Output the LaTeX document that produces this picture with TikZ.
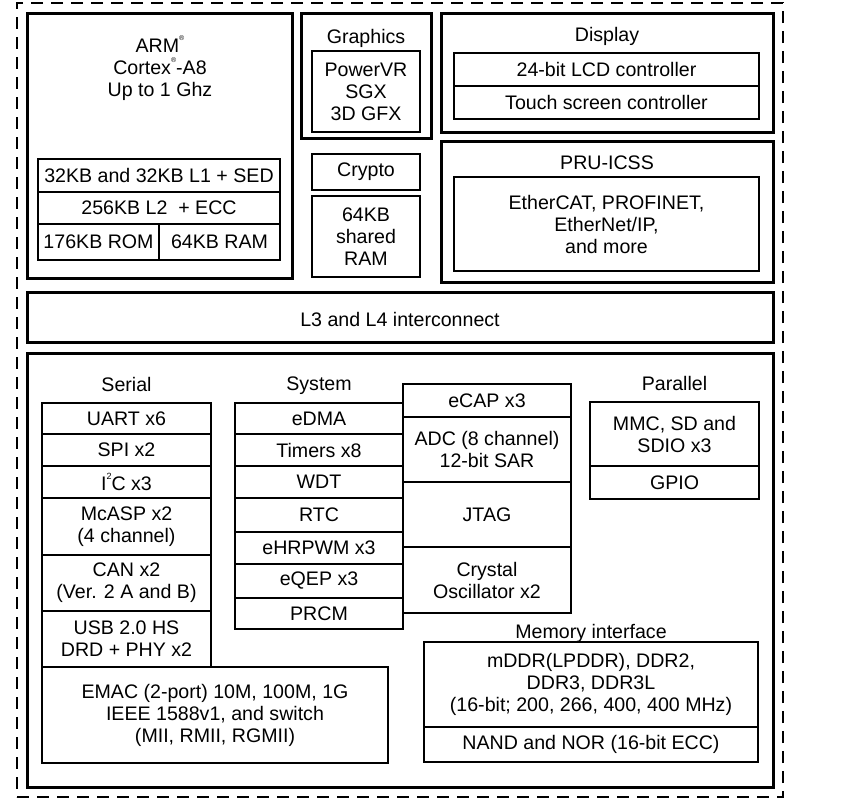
\documentclass[tikz,border=0pt]{standalone}
\usepackage{fontspec}
\setmainfont{Liberation Sans}
\newcommand{\chipfont}{\fontsize{19.6}{22}\selectfont}
\newcommand{\regmark}{\raisebox{1.1ex}{\fontsize{7}{7}\selectfont\textregistered}}
\newcommand{\smallsup}[1]{\raisebox{1.1ex}{\fontsize{9}{9}\selectfont #1}}
\tikzstyle{cell}=[draw, line width=2pt, inner sep=0, outer sep=0, align=center, font=\chipfont]
\tikzstyle{block}=[cell, line width=3pt]
\tikzstyle{caption}=[inner sep=0, outer sep=0, align=center, font=\chipfont, text depth=0pt]
\tikzstyle{chip}=[draw, line width=2pt, dash pattern=on 12pt off 8pt, inner sep=0, outer sep=0]
\tikzset{wh/.style 2 args={minimum width=#1pt, minimum height=#2pt}}

\begin{document}
\begin{tikzpicture}[x=1pt, y=-1pt]
    \useasboundingbox (0,0) rectangle (846,809);
    \node[chip, wh={766}{794}] (soc) at (400,400) {};

    % MPU
    \node[block, wh={265}{265}] (mpu) at (159.5,145.5) {};
    \node[caption] (mpuname) at (160,66) {ARM\regmark\\Cortex\regmark-A8\\Up to 1 Ghz};
    \node[cell, wh={242}{33}] (lone) at (159,175.5) {32KB and 32KB L1 + SED};
    \node[cell, wh={242}{32}] (ltwo) at (159,208) {256KB L2\ \ + ECC};
    \node[cell, wh={121}{36}] (rom) at (98.5,242) {176KB ROM};
    \node[cell, wh={121}{36}] (ram) at (219.5,242) {64KB RAM};

    % graphics, crypto, shared memory
    \node[block, wh={130}{125}] (gfx) at (366,75.5) {};
    \node[caption] (gfxname) at (366,36) {Graphics};
    \node[cell, wh={108}{81}] (sgx) at (366,91.5) {PowerVR\\SGX\\3D GFX};
    \node[cell, wh={108}{36}] (crypto) at (366,172) {Crypto};
    \node[cell, wh={108}{81}] (shram) at (366,236.5) {64KB\\shared\\RAM};

    % display
    \node[block, wh={332}{119}] (disp) at (607,72.5) {};
    \node[caption] (dispname) at (607,34) {Display};
    \node[cell, wh={305}{33}] (lcd) at (606.5,69.5) {24-bit LCD controller};
    \node[cell, wh={305}{33}] (touch) at (606.5,102.5) {Touch screen controller};

    % PRU
    \node[block, wh={332}{141}] (pru) at (607,211.5) {};
    \node[caption] (pruname) at (607,163) {PRU-ICSS};
    \node[cell, wh={305}{94}] (fieldbus) at (606.5,224) {EtherCAT, PROFINET,\\EtherNet/IP,\\and more};

    \node[block, wh={746}{50}] (bus) at (400,317) {};
    \node[caption] (busname) at (400,319.5) {L3 and L4 interconnect};

    % peripherals
    \node[block, wh={746}{434}] (periph) at (400,570) {};

    \node[caption] (serial) at (126.5,384) {Serial};
    \node[cell, wh={169}{31}] (uart) at (126.5,418.5) {UART x6};
    \node[cell, wh={169}{32}] (spi) at (126.5,450) {SPI x2};
    \node[cell, wh={169}{32}] (iic) at (126.5,482) {I\smallsup{2}C x3};
    \node[cell, wh={169}{57}] (mcasp) at (126.5,526.5) {McASP x2\\(4 channel)};
    \node[cell, wh={169}{56}] (can) at (126.5,583) {CAN x2\\(Ver. 2 A and B)};
    \node[cell, wh={169}{56}] (usb) at (126.5,639) {USB 2.0 HS\\DRD + PHY x2};
    \node[cell, wh={346}{96}] (emac) at (215,715) {EMAC (2-port) 10M, 100M, 1G\\IEEE 1588v1, and switch\\(MII, RMII, RGMII)};

    \node[caption] (system) at (319,384) {System};
    \node[cell, wh={168}{31}] (edma) at (319,418.5) {eDMA};
    \node[cell, wh={168}{32}] (timers) at (319,450) {Timers x8};
    \node[cell, wh={168}{32}] (wdt) at (319,482) {WDT};
    \node[cell, wh={168}{34}] (rtc) at (319,515) {RTC};
    \node[cell, wh={168}{32}] (ehrpwm) at (319,548) {eHRPWM x3};
    \node[cell, wh={168}{34}] (eqep) at (319,581) {eQEP x3};
    \node[cell, wh={168}{31}] (prcm) at (319,613.5) {PRCM};

    \node[cell, wh={168}{33}] (ecap) at (487,400.5) {eCAP x3};
    \node[cell, wh={168}{65}] (adc) at (487,449.5) {ADC (8 channel)\\12-bit SAR};
    \node[cell, wh={168}{65}] (jtag) at (487,514.5) {JTAG};
    \node[cell, wh={168}{66}] (xtal) at (487,580) {Crystal\\Oscillator x2};

    \node[caption] (parallel) at (674.5,383) {Parallel};
    \node[cell, wh={169}{64}] (mmc) at (674.5,434) {MMC, SD and\\SDIO x3};
    \node[cell, wh={169}{33}] (gpio) at (674.5,482.5) {GPIO};

    \node[caption] (memif) at (591,631) {Memory interface};
    \node[cell, wh={334}{85}] (ddr) at (591,684.5) {mDDR(LPDDR), DDR2,\\DDR3, DDR3L\\(16-bit; 200, 266, 400, 400 MHz)};
    \node[cell, wh={334}{35}] (nand) at (591,744.5) {NAND and NOR (16-bit ECC)};
\end{tikzpicture}
\end{document}
